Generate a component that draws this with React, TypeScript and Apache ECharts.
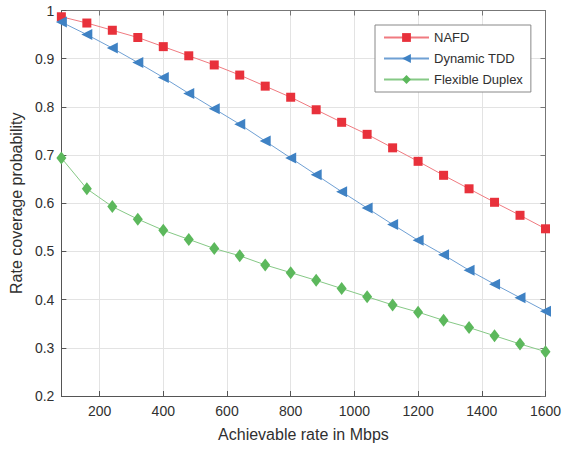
import { useEffect, useRef } from 'react'
import * as echarts from 'echarts'

const rates = [80, 160, 240, 320, 400, 480, 560, 640, 720, 800, 880, 960, 1040, 1120, 1200, 1280, 1360, 1440, 1520, 1600]
const nafd = [0.987, 0.974, 0.959, 0.944, 0.925, 0.906, 0.887, 0.866, 0.843, 0.82, 0.794, 0.768, 0.743, 0.715, 0.687, 0.658, 0.63, 0.602, 0.575, 0.547]
const dynamicTdd = [0.976, 0.95, 0.922, 0.892, 0.861, 0.828, 0.796, 0.764, 0.729, 0.694, 0.659, 0.624, 0.59, 0.556, 0.523, 0.493, 0.461, 0.432, 0.404, 0.376]
const flexibleDuplex = [0.694, 0.63, 0.593, 0.567, 0.544, 0.525, 0.506, 0.491, 0.472, 0.456, 0.44, 0.423, 0.406, 0.389, 0.374, 0.357, 0.342, 0.325, 0.308, 0.292]
const xTicks = [200, 400, 600, 800, 1000, 1200, 1400, 1600]

const FONT = 'Liberation Sans'
const TEXT = '#303030'

export default function App() {
  const ref = useRef<HTMLDivElement | null>(null)

  useEffect(() => {
    if (!ref.current) return
    const chart = echarts.init(ref.current, undefined, { renderer: 'svg' })

    const pairs = (ys: number[]) => rates.map((x, i) => [x, ys[i]])

    const mirrorX = {
      type: 'value',
      min: 80,
      max: 1600,
      axisLine: { show: true, lineStyle: { color: '#777', width: 1 } },
      axisTick: { show: true, inside: true, length: 5, customValues: xTicks, lineStyle: { color: '#777' } },
      axisLabel: { show: false, customValues: xTicks },
      splitLine: { show: false }
    }
    const mirrorY = {
      type: 'value',
      min: 0.2,
      max: 1,
      interval: 0.1,
      axisLine: { show: true, lineStyle: { color: '#777', width: 1 } },
      axisTick: { show: true, inside: true, length: 5, lineStyle: { color: '#777' } },
      axisLabel: { show: false },
      splitLine: { show: false }
    }

    const option = {
      animation: false,
      backgroundColor: '#fff',
      textStyle: { fontFamily: FONT },
      grid: { left: 57.5, right: 29.5, top: 10.5, bottom: 54, containLabel: false },
      legend: {
        orient: 'vertical',
        left: 375,
        top: 25,
        padding: [6, 8, 6, 8],
        itemWidth: 45,
        itemHeight: 11,
        itemGap: 8,
        borderColor: '#888',
        borderWidth: 1,
        backgroundColor: '#fff',
        textStyle: { color: TEXT, fontSize: 13, fontFamily: FONT, padding: [0, 0, 0, 0] },
        data: ['NAFD', 'Dynamic TDD', 'Flexible Duplex']
      },
      xAxis: [
        {
          type: 'value',
          min: 80,
          max: 1600,
          name: 'Achievable rate in Mbps',
          nameLocation: 'middle',
          nameGap: 30,
          nameTextStyle: { color: TEXT, fontSize: 16, fontFamily: FONT },
          axisLine: { show: true, lineStyle: { color: '#555', width: 1 } },
          axisTick: { show: true, inside: true, length: 5, customValues: xTicks, lineStyle: { color: '#555' } },
          axisLabel: {
            customValues: xTicks,
            color: TEXT,
            fontSize: 14,
            margin: 8,
            fontFamily: FONT,
            formatter: (v: number) => String(v)
          },
          splitLine: { show: true, lineStyle: { color: '#e3e3e3', width: 1 } }
        },
        { ...mirrorX, position: 'top' }
      ],
      yAxis: [
        {
          type: 'value',
          min: 0.2,
          max: 1,
          interval: 0.1,
          name: 'Rate coverage probability',
          nameLocation: 'middle',
          nameGap: 33,
          nameTextStyle: { color: TEXT, fontSize: 16, fontFamily: FONT },
          axisLine: { show: true, lineStyle: { color: '#555', width: 1 } },
          axisTick: { show: true, inside: true, length: 5, lineStyle: { color: '#555' } },
          axisLabel: { color: TEXT, fontSize: 14, margin: 7, fontFamily: FONT },
          splitLine: { show: true, lineStyle: { color: '#e3e3e3', width: 1 } }
        },
        { ...mirrorY, position: 'right' }
      ],
      series: [
        {
          name: 'NAFD',
          type: 'line',
          data: pairs(nafd),
          symbol: 'rect',
          symbolSize: 9,
          clip: false,
          color: '#e8313b',
          lineStyle: { color: '#f07a80', width: 1 },
          itemStyle: { color: '#e8313b' }
        },
        {
          name: 'Dynamic TDD',
          type: 'line',
          data: pairs(dynamicTdd),
          symbol: 'triangle',
          symbolSize: [11, 11],
          symbolRotate: 90,
          clip: false,
          color: '#3f82c4',
          lineStyle: { color: '#6fa0d4', width: 1 },
          itemStyle: { color: '#3f82c4' }
        },
        {
          name: 'Flexible Duplex',
          type: 'line',
          data: pairs(flexibleDuplex),
          symbol: 'diamond',
          symbolSize: [10, 13],
          clip: false,
          color: '#5cb85c',
          lineStyle: { color: '#86c986', width: 1 },
          itemStyle: { color: '#5cb85c' }
        }
      ]
    }

    chart.setOption(option as echarts.EChartsOption)
    return () => chart.dispose()
  }, [])

  return (
    <div
      ref={ref}
      style={{ position: 'fixed', left: 0, top: 0, width: 575, height: 450 }}
    />
  )
}
